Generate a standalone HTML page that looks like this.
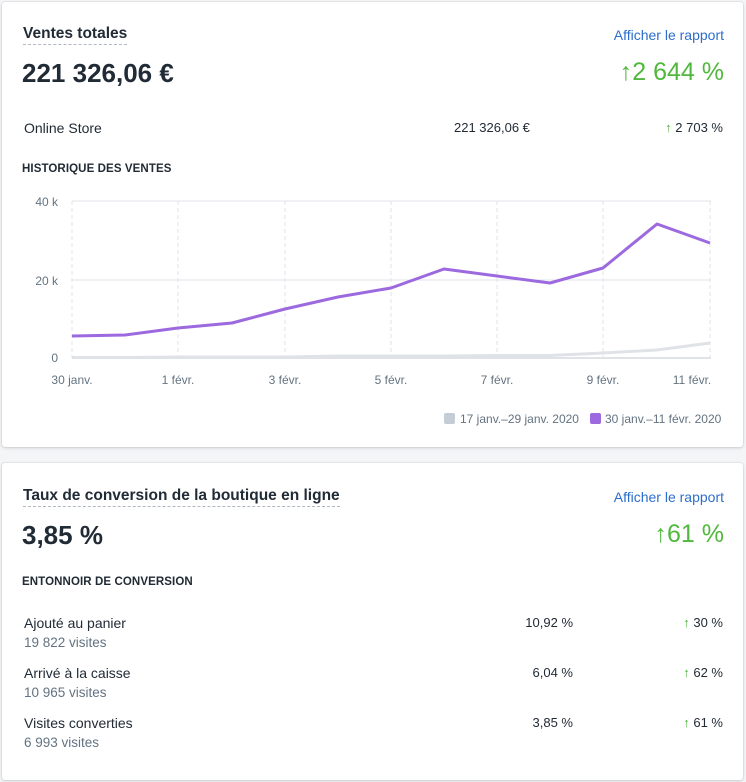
<!DOCTYPE html>
<html><head><meta charset="utf-8"><style>
body{margin:0;width:746px;height:782px;background:#f4f5f7;font-family:"Liberation Sans",sans-serif;color:#212b36;position:relative;overflow:hidden}
.card{position:absolute;left:2px;width:741px;background:#fff;border-radius:3px;box-shadow:0 0 0 1px rgba(63,63,68,.06),0 1px 3px rgba(63,63,68,.18)}
.a{position:absolute;white-space:nowrap}
.t{font-size:15.5px;font-weight:bold;border-bottom:1px dashed #b0b8c4;padding-bottom:1px}
.link{color:#2c6ecb;font-size:14px}
.big{font-size:26px;font-weight:bold}
.gr{color:#50b83c}
.s{font-size:14px;color:#212b36}
.h{font-size:11.5px;font-weight:bold;letter-spacing:.1px}
.m{font-size:13.5px;color:#637381}
</style></head><body>
<div class="card" style="top:2px;height:445px"></div>
<div class="card" style="top:463px;height:317px"></div>

<div class="a t" style="left:23px;top:25px">Ventes totales</div>
<div class="a link" style="right:22px;top:27px">Afficher le rapport</div>
<div class="a big" style="left:22px;top:58px">221 326,06 €</div>
<div class="a gr" style="right:22px;top:58px;font-size:25px">↑2 644 %</div>
<div class="a s" style="left:24px;top:120px">Online Store</div>
<div class="a s" style="left:454px;top:120px;font-size:13px">221 326,06 €</div>
<div class="a s" style="right:23px;top:120px;font-size:13px"><span class="gr">↑</span> 2 703 %</div>
<div class="a h" style="left:22px;top:163px">HISTORIQUE DES VENTES</div>

<svg class="a" style="left:0;top:0" width="746" height="450">
<g stroke="#dfe3e8" stroke-width="1">
<line x1="72" y1="201" x2="711" y2="201"/><line x1="72" y1="280" x2="711" y2="280"/>
</g>
<g stroke="#dfe3e8" stroke-dasharray="4,3">
<line x1="72" y1="201" x2="72" y2="358"/><line x1="178" y1="201" x2="178" y2="358"/><line x1="285" y1="201" x2="285" y2="358"/><line x1="391" y1="201" x2="391" y2="358"/><line x1="497" y1="201" x2="497" y2="358"/><line x1="603" y1="201" x2="603" y2="358"/><line x1="710" y1="201" x2="710" y2="358"/>
</g>
<line x1="72" y1="358" x2="711" y2="358" stroke="#dfe3e8" stroke-width="2"/>
<polyline fill="none" stroke="#dfe3e8" stroke-width="3" points="72,357.5 125,357.5 178,357 232,357 285,357 338,356 391,356 444,356 497,355.5 550,355.5 603,353 657,350 710,343"/>
<polyline fill="none" stroke="#9c6ade" stroke-width="3" stroke-linejoin="round" points="72,336 125,335 178,328 232,323 285,309 338,297 391,288 444,269 497,276 550,283 603,268 657,224 710,243"/>
<g font-size="12" fill="#637381" font-family="Liberation Sans,sans-serif">
<text x="58" y="206" text-anchor="end">40 k</text><text x="58" y="285" text-anchor="end">20 k</text><text x="58" y="362" text-anchor="end">0</text>
<g text-anchor="middle"><text x="72" y="384">30 janv.</text><text x="178" y="384">1 févr.</text><text x="285" y="384">3 févr.</text><text x="391" y="384">5 févr.</text><text x="497" y="384">7 févr.</text><text x="603" y="384">9 févr.</text><text x="692" y="384">11 févr.</text></g>
<rect x="444" y="413" width="11" height="11" rx="2" fill="#c4cdd5"/><text x="460" y="423">17 janv.–29 janv. 2020</text>
<rect x="590" y="413" width="11" height="11" rx="2" fill="#9c6ade"/><text x="605" y="423">30 janv.–11 févr. 2020</text>
</g>
</svg>

<div class="a t" style="left:23px;top:487px">Taux de conversion de la boutique en ligne</div>
<div class="a link" style="right:22px;top:489px">Afficher le rapport</div>
<div class="a big" style="left:22px;top:520px">3,85 %</div>
<div class="a gr" style="right:22px;top:520px;font-size:25px">↑61 %</div>
<div class="a h" style="left:22px;top:576px">ENTONNOIR DE CONVERSION</div>

<div class="a s" style="left:24px;top:615px">Ajouté au panier</div>
<div class="a m" style="left:24px;top:635px">19 822 visites</div>
<div class="a s" style="right:173px;top:615px;font-size:13px">10,92 %</div>
<div class="a s" style="right:23px;top:615px;font-size:13px"><span class="gr">↑</span> 30 %</div>

<div class="a s" style="left:24px;top:665px">Arrivé à la caisse</div>
<div class="a m" style="left:24px;top:685px">10 965 visites</div>
<div class="a s" style="right:173px;top:665px;font-size:13px">6,04 %</div>
<div class="a s" style="right:23px;top:665px;font-size:13px"><span class="gr">↑</span> 62 %</div>

<div class="a s" style="left:24px;top:715px">Visites converties</div>
<div class="a m" style="left:24px;top:735px">6 993 visites</div>
<div class="a s" style="right:173px;top:715px;font-size:13px">3,85 %</div>
<div class="a s" style="right:23px;top:715px;font-size:13px"><span class="gr">↑</span> 61 %</div>
</body></html>
